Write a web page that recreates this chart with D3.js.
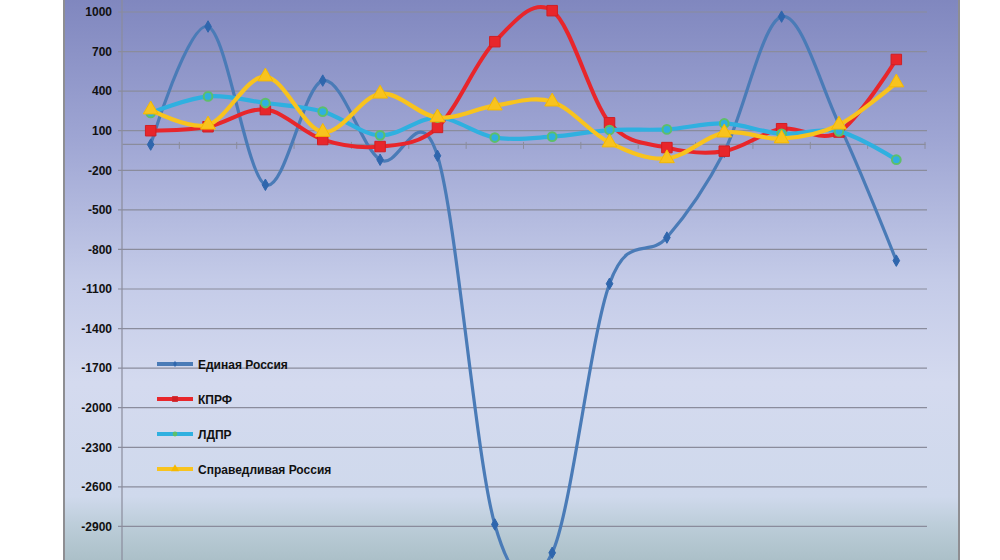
<!DOCTYPE html>
<html>
<head>
<meta charset="utf-8">
<script src="https://cdn.jsdelivr.net/npm/d3@7"></script>
<style>
  html, body { margin: 0; padding: 0; background: #fff; }
  svg { display: block; font-family: "Liberation Sans", Arial, sans-serif; }
  .grid line { stroke: #8a8c9c; stroke-width: 1.2; }
  .y.axis text { font-size: 12px; font-weight: bold; fill: #111; }
  .legend text { font-size: 12px; font-weight: bold; fill: #111; }
</style>
</head>
<body>
<div id="chart"></div>
<script>
// 14 points along the x axis, no labels shown
const categories = d3.range(1, 15).map(String);

const yTicks = [1000, 700, 400, 100, -200, -500, -800, -1100, -1400, -1700, -2000, -2300, -2600, -2900, -3200];

const edinayaRossiya = [-5, 890, -310, 480, -120, -90, -2885, -3100, -1060, -710, -60, 965, 150, -885];
const kprf = [100, 130, 260, 33, -20, 125, 775, 1010, 160, -28, -55, 115, 90, 640];
const ldpr = [235, 360, 310, 245, 65, 200, 48, 55, 105, 110, 155, 77, 95, -120];
const spravRossiya = [260, 145, 510, 90, 380, 200, 290, 320, 10, -110, 85, 40, 145, 465];

const seriesNames = ['Единая Россия', 'КПРФ', 'ЛДПР', 'Справедливая Россия'];
const seriesValues = [edinayaRossiya, kprf, ldpr, spravRossiya];

const styles = [
  { color: '#4a7bb7', width: 3.2, marker: d3.symbolDiamond, size: 38, stroke: '#2f66ad' },
  { color: '#e8262b', width: 4, marker: d3.symbolSquare, size: 110, stroke: '#d01f24' },
  { color: '#2fb0e0', width: 4.2, marker: d3.symbolCircle, size: 60, stroke: '#5dbf6a' },
  { color: '#f8c31e', width: 4.2, marker: d3.symbolTriangle, size: 95, stroke: '#f5b800' }
];

const W = 1000, H = 560;
const panel = { left: 64, right: 959 };
const plot = { left: 122, right: 925 };

const svg = d3.select('#chart').append('svg')
  .attr('width', W)
  .attr('height', H);

const defs = svg.append('defs');
const grad = defs.append('linearGradient')
  .attr('id', 'bg')
  .attr('x1', 0).attr('y1', 0).attr('x2', 0).attr('y2', 1);
[[0, '#7f86be'], [0.25, '#9ea5d3'], [0.5, '#c4cbe8'], [0.68, '#d4daef'], [0.88, '#cfd9ec'], [0.93, '#bccdd9'], [1, '#a9bec6']]
  .forEach(s => grad.append('stop').attr('offset', s[0]).attr('stop-color', s[1]));

svg.append('rect')
  .attr('x', panel.left).attr('y', -5)
  .attr('width', panel.right - panel.left).attr('height', H + 10)
  .attr('fill', 'url(#bg)');
svg.append('line')
  .attr('x1', panel.left).attr('x2', panel.left).attr('y1', 0).attr('y2', H)
  .attr('stroke', '#8e8e92').attr('stroke-width', 2);
svg.append('line')
  .attr('x1', panel.right).attr('x2', panel.right).attr('y1', 0).attr('y2', H)
  .attr('stroke', '#8e8e92').attr('stroke-width', 2);

const scaleY = d3.scaleLinear().domain([-3200, 1000]).range([566, 12]);
const scaleX = d3.scaleBand().domain(categories).range([plot.left, plot.right]);
const cx = c => scaleX(c) + scaleX.bandwidth() / 2;

// horizontal grid
svg.append('g')
  .attr('class', 'grid')
  .selectAll('line')
  .data(yTicks)
  .enter()
  .append('line')
  .attr('x1', plot.left - 4)
  .attr('x2', plot.right + 2)
  .attr('y1', d => scaleY(d))
  .attr('y2', d => scaleY(d));

// y axis, plain hyphen minus like the original
const yAxis = d3.axisLeft(scaleY)
  .tickValues(yTicks)
  .tickSize(0)
  .tickPadding(10)
  .tickFormat(d => String(d));
const gy = svg.append('g')
  .attr('class', 'y axis')
  .attr('transform', `translate(${plot.left},0)`)
  .call(yAxis);
gy.select('.domain').remove();
svg.append('line')
  .attr('x1', plot.left).attr('x2', plot.left).attr('y1', 0).attr('y2', H)
  .attr('stroke', '#8a8c9c').attr('stroke-width', 1.2);

// category axis on zero
const xAxis = d3.axisBottom(scaleX).tickSize(0).tickFormat('');
const gx = svg.append('g')
  .attr('class', 'x axis')
  .attr('transform', `translate(0,${scaleY(0)})`)
  .call(xAxis);
gx.select('.domain').attr('stroke', '#8a8c9c').attr('stroke-width', 1.2);
gx.selectAll('.tick').remove();
gx.selectAll('.cat-tick')
  .data(categories.slice(1).concat(['end']))
  .enter()
  .append('line')
  .attr('class', 'cat-tick')
  .attr('x1', d => d === 'end' ? plot.right : scaleX(d))
  .attr('x2', d => d === 'end' ? plot.right : scaleX(d))
  .attr('y1', -2).attr('y2', 5)
  .attr('stroke', '#8a8c9c').attr('stroke-width', 1);

const line = d3.line()
  .x((d, i) => cx(categories[i]))
  .y(d => scaleY(d))
  .curve(d3.curveCardinal.tension(0));

seriesValues.forEach((vals, k) => {
  const st = styles[k];
  const g = svg.append('g').attr('class', 'series s' + k);
  g.append('path')
    .datum(vals)
    .attr('d', line)
    .attr('fill', 'none')
    .attr('stroke', st.color)
    .attr('stroke-width', st.width)
    .attr('stroke-linejoin', 'round');
  g.selectAll('.point')
    .data(vals)
    .enter()
    .append('path')
    .attr('class', 'point')
    .attr('transform', (d, i) => `translate(${cx(categories[i])},${scaleY(d)})`)
    .attr('d', d3.symbol().type(st.marker).size(st.size))
    .attr('fill', k === 0 ? st.stroke : st.color)
    .attr('stroke', st.stroke)
    .attr('stroke-width', k === 2 ? 2 : 1);
});

// legend
const legend = svg.append('g')
  .attr('class', 'legend')
  .attr('transform', 'translate(157,364)');
const item = legend.selectAll('.item')
  .data(seriesNames)
  .enter()
  .append('g')
  .attr('class', 'item')
  .attr('transform', (d, i) => `translate(0,${i * 35})`);
item.append('line')
  .attr('x1', 0).attr('x2', 36).attr('y1', 0).attr('y2', 0)
  .attr('stroke', (d, i) => styles[i].color)
  .attr('stroke-width', 4);
item.append('path')
  .attr('transform', 'translate(18,0)')
  .attr('d', (d, i) => d3.symbol().type(styles[i].marker).size(styles[i].size * 0.3)())
  .attr('fill', (d, i) => styles[i].stroke);
item.append('text')
  .attr('x', 41)
  .attr('y', 4.5)
  .text(d => d);
</script>
</body>
</html>
